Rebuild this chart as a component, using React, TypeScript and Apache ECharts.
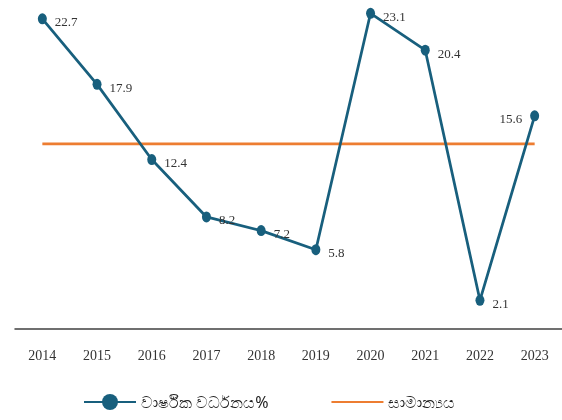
import React, { useEffect, useRef } from "react";
import * as echarts from "echarts";

const years = ["2014", "2015", "2016", "2017", "2018", "2019", "2020", "2021", "2022", "2023"];
const growth = [22.7, 17.9, 12.4, 8.2, 7.2, 5.8, 23.1, 20.4, 2.1, 15.6];
const averageValue = 13.54;
const averageLine = years.map(() => averageValue);
const seriesNames = ["වාර්ෂික වර්ධනය%", "සාමාන්‍යය"];

const BLUE = "#185f7d";
const ORANGE = "#ed7d31";
const SERIF = "'Liberation Serif', 'DejaVu Serif', serif";

export default function App() {
  const ref = useRef<HTMLDivElement>(null);
  useEffect(() => {
    if (!ref.current) return;
    const chart = echarts.init(ref.current, undefined, { renderer: "svg" });
    chart.setOption({
      animation: false,
      grid: { left: 15, right: 0, top: 1, height: 328, containLabel: false },
      xAxis: {
        type: "category",
        data: years,
        boundaryGap: true,
        axisLine: { show: true, lineStyle: { color: "#404040", width: 1.5 } },
        axisTick: { show: false },
        axisLabel: { color: "#333", fontFamily: SERIF, fontSize: 14, margin: 19 },
        splitLine: { show: false },
      },
      yAxis: {
        type: "value",
        min: 0,
        max: 24,
        show: false,
        splitLine: { show: false },
      },
      legend: {
        left: 78,
        top: 389,
        itemWidth: 52,
        itemHeight: 20,
        itemGap: 62,
        textStyle: { fontSize: 16, color: "#222", fontFamily: "'Noto Sans', sans-serif" },
        data: [
          { name: seriesNames[0] },
          { name: seriesNames[1], itemStyle: { opacity: 0 } },
        ],
      },
      series: [
        {
          name: seriesNames[0],
          type: "line",
          data: growth.map((v, i) =>
            i === growth.length - 1 ? { value: v, label: { position: "left" } } : v
          ),
          symbol: "path://M0,-1 A1,1 0 1,1 0,1 A1,1 0 1,1 0,-1 Z",
          symbolSize: [9, 11],
          showAllSymbol: true,
          itemStyle: { color: BLUE },
          lineStyle: { color: BLUE, width: 2.75 },
          label: {
            show: true,
            position: "right",
            distance: 8,
            offset: [0, 3],
            color: "#333",
            fontFamily: SERIF,
            fontSize: 13,
          },
          z: 3,
        },
        {
          name: seriesNames[1],
          type: "line",
          data: averageLine,
          symbol: "none",
          itemStyle: { color: ORANGE },
          lineStyle: { color: ORANGE, width: 2.75 },
          z: 2,
        },
      ],
    });
    return () => chart.dispose();
  }, []);
  return (
    <div
      ref={ref}
      style={{ position: "fixed", left: 0, top: 0, width: 562, height: 420 }}
    />
  );
}
